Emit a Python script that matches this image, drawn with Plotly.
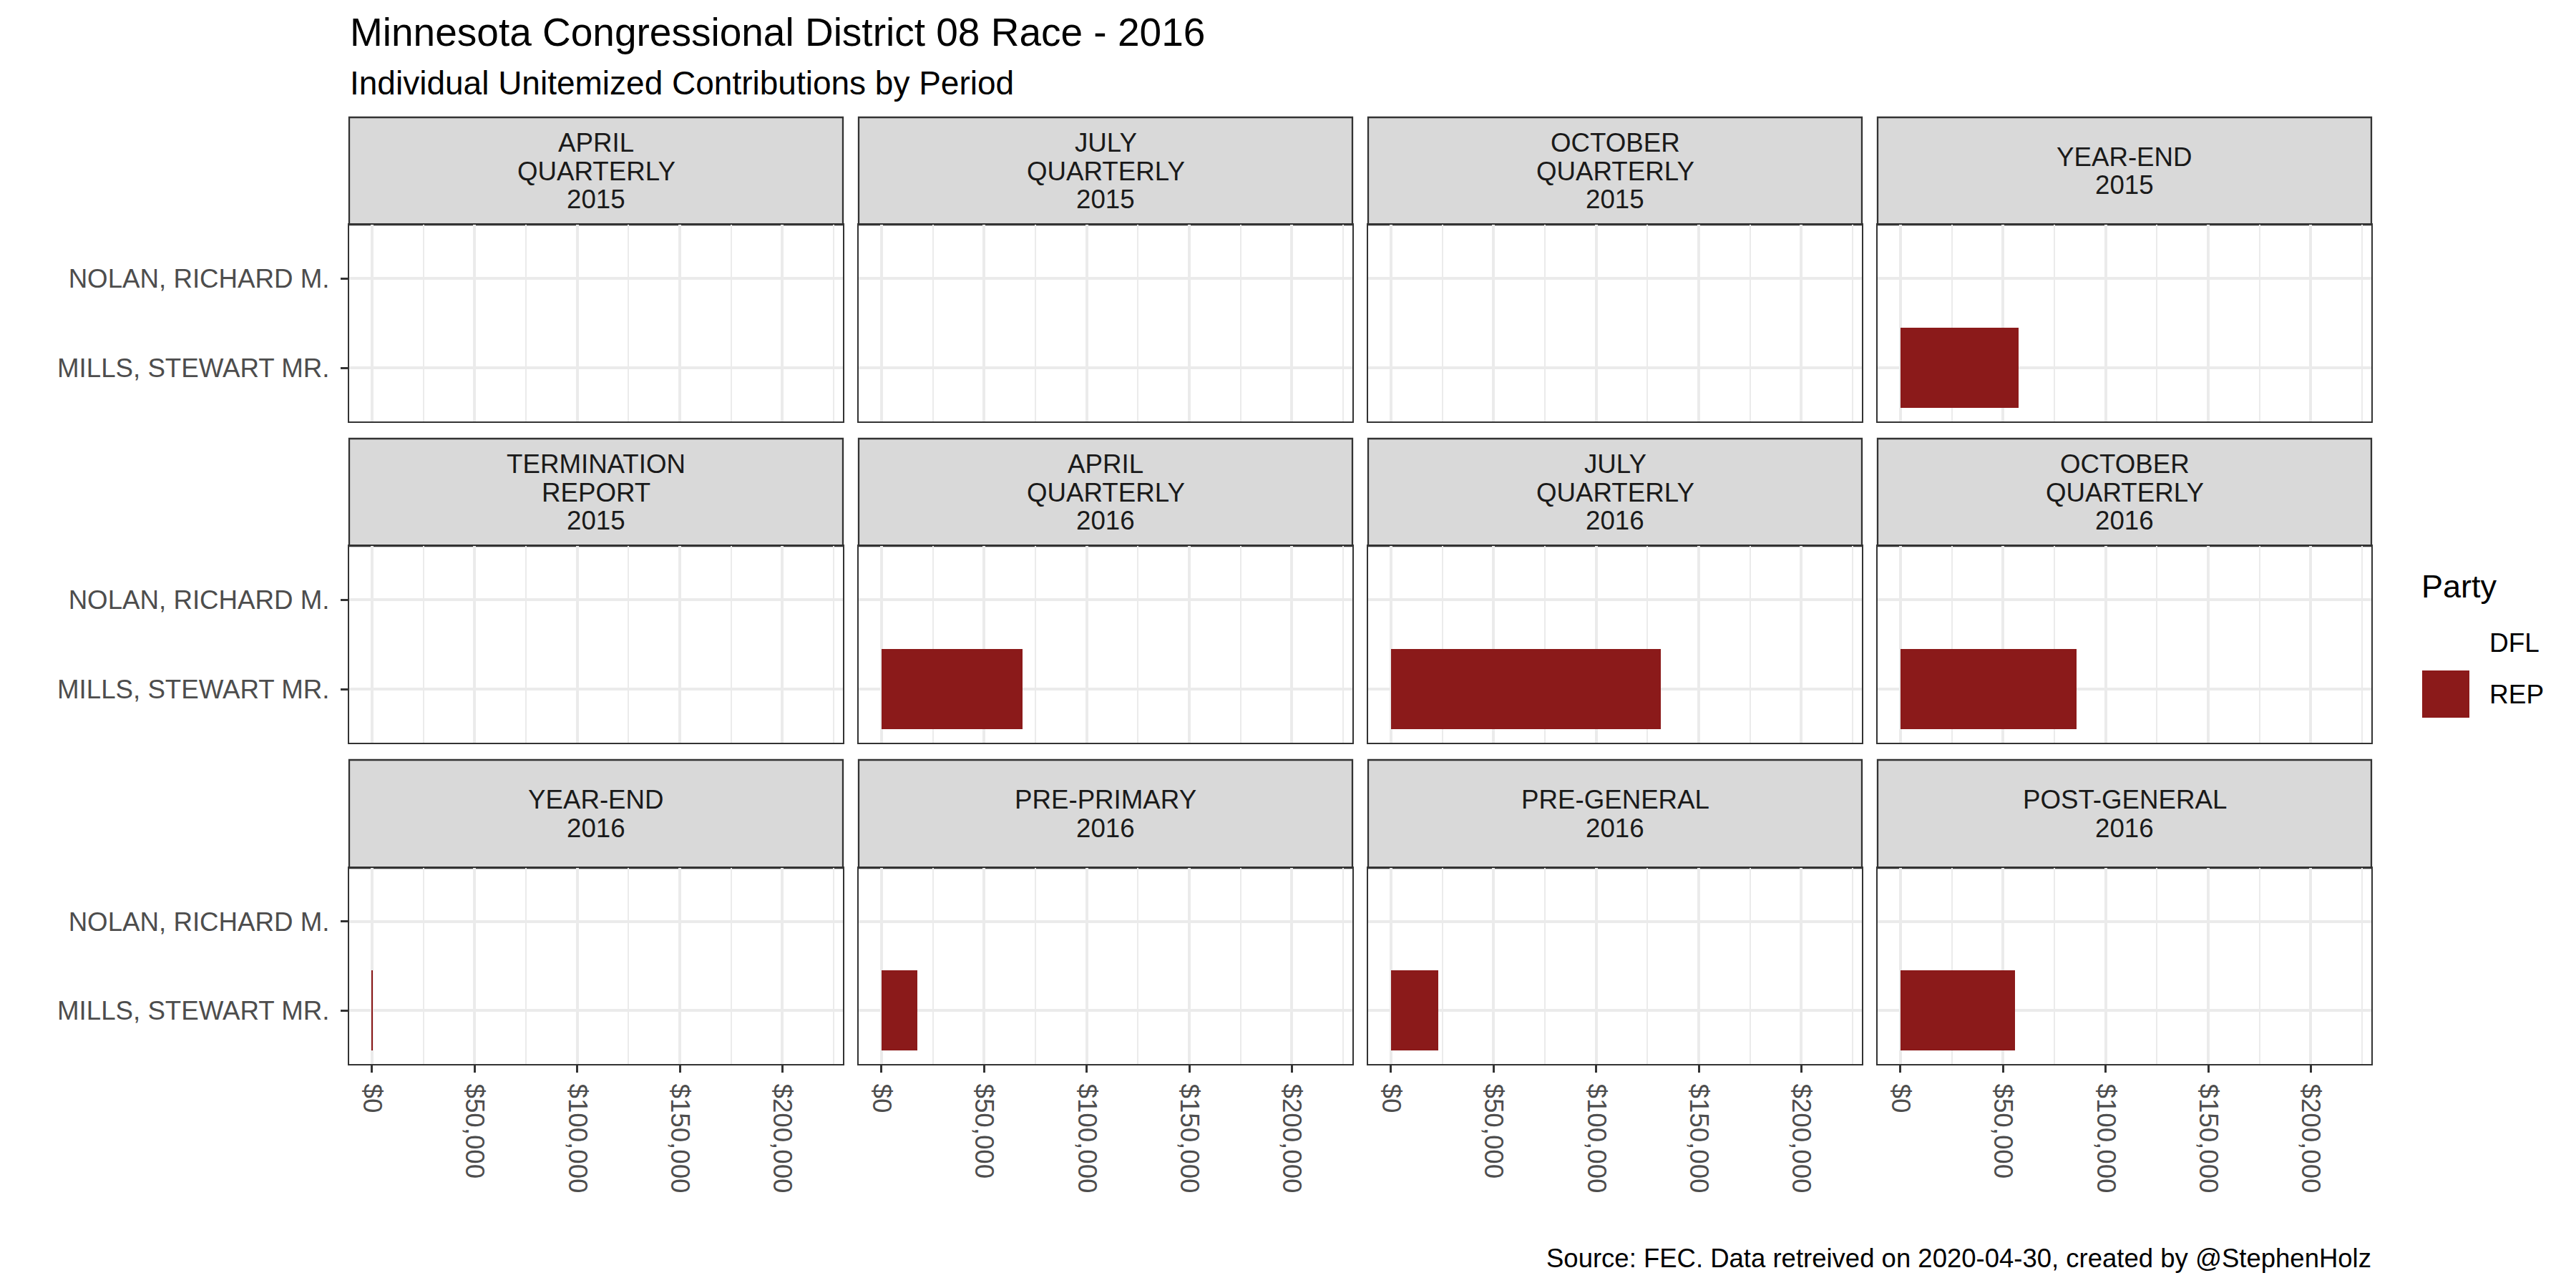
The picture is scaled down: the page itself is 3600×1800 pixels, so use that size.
import plotly.graph_objects as go

# ---------------- data ----------------
periods = [
    "APRIL\nQUARTERLY\n2015", "JULY\nQUARTERLY\n2015", "OCTOBER\nQUARTERLY\n2015", "YEAR-END\n2015",
    "TERMINATION\nREPORT\n2015", "APRIL\nQUARTERLY\n2016", "JULY\nQUARTERLY\n2016", "OCTOBER\nQUARTERLY\n2016",
    "YEAR-END\n2016", "PRE-PRIMARY\n2016", "PRE-GENERAL\n2016", "POST-GENERAL\n2016",
]
candidates = ["MILLS, STEWART MR.", "NOLAN, RICHARD M."]
mills_rep = [None, None, None, 57700, None, 68700, 131400, 85800, 350, 17600, 22900, 56000]
nolan_dfl = [None] * 12
x_tickvals = [0, 50000, 100000, 150000, 200000]
x_ticktext = ["$0", "$50,000", "$100,000", "$150,000", "$200,000"]
x_minor = [25000, 75000, 125000, 175000, 225000]
party_names = ["DFL", "REP"]
party_colors = {"DFL": "rgba(0,0,0,0)", "REP": "#8B1A1A"}

# ---------------- layout helpers ----------------
W, H = 3600, 1800
def px(x):
    return x / W
def py(y):
    return 1 - y / H

col_left = [488, 1200, 1912, 2624]
col_w = 690
row_strip_top = [164, 613, 1062]
row_panel_top = [314, 763, 1213]
row_panel_bot = [589, 1038, 1487]

FONT = "Liberation Sans, Arial, sans-serif"
BORDER = "#333333"
AXIS_FS = 36.7
STRIP_FS = 36.7

fig = go.Figure()
layout = dict()
shapes = []
annotations = []

for i, per in enumerate(periods):
    r, c = divmod(i, 4)
    n = i + 1
    xa = "x" if n == 1 else f"x{n}"
    ya = "y" if n == 1 else f"y{n}"
    xkey = "xaxis" if n == 1 else f"xaxis{n}"
    ykey = "yaxis" if n == 1 else f"yaxis{n}"

    # invisible anchor trace so every facet draws its axes
    fig.add_trace(go.Scatter(x=[0, 0], y=[0, 1], mode="markers",
                             marker=dict(opacity=0, size=1), hoverinfo="skip",
                             xaxis=xa, yaxis=ya, showlegend=False))

    # bars
    for cand, vals, party in [(candidates[0], mills_rep, "REP"), (candidates[1], nolan_dfl, "DFL")]:
        v = vals[i]
        if v is None:
            continue
        fig.add_trace(go.Bar(
            x=[v], y=[candidates.index(cand)], orientation="h", width=0.9,
            marker=dict(color=party_colors[party], line=dict(width=0)),
            xaxis=xa, yaxis=ya, showlegend=False, name=party,
        ))

    bottom = (r == 2)
    left = (c == 0)
    layout[xkey] = dict(
        domain=[px(col_left[c]), px(col_left[c] + col_w)],
        anchor=ya, range=[-11100, 229500], type="linear",
        tickvals=x_tickvals, ticktext=x_ticktext,
        showticklabels=bottom, tickangle=90,
        ticks="outside" if bottom else "", ticklen=10, tickwidth=3, tickcolor=BORDER,
        ticklabelstandoff=8,
        tickfont=dict(family=FONT, size=AXIS_FS, color="#4D4D4D"),
        showgrid=True, gridcolor="#EBEBEB", gridwidth=4,
        minor=dict(tickvals=x_minor, showgrid=True, gridcolor="#EBEBEB", gridwidth=2, ticks=""),
        zeroline=False, showline=True, linecolor=BORDER, linewidth=2.3, mirror=True,
        fixedrange=True,
    )
    layout[ykey] = dict(
        domain=[py(row_panel_bot[r]), py(row_panel_top[r])],
        anchor=xa, range=[-0.6, 1.6], type="linear",
        tickvals=[0, 1], ticktext=candidates,
        showticklabels=left,
        ticks="outside" if left else "", ticklen=10, tickwidth=3, tickcolor=BORDER,
        ticklabelstandoff=8,
        tickfont=dict(family=FONT, size=AXIS_FS, color="#4D4D4D"),
        showgrid=True, gridcolor="#EBEBEB", gridwidth=4,
        zeroline=False, showline=True, linecolor=BORDER, linewidth=2.3, mirror=True,
        fixedrange=True,
    )

    # strip
    x0, x1 = col_left[c], col_left[c] + col_w
    y0, y1 = row_strip_top[r], row_panel_top[r]
    shapes.append(dict(type="rect", xref="paper", yref="paper",
                       x0=px(x0), x1=px(x1), y0=py(y1), y1=py(y0),
                       fillcolor="#D9D9D9", line=dict(color=BORDER, width=2.3), layer="below"))
    lines = per.split("\n")
    cy = (y0 + y1) / 2
    sp = 39.5
    for k, ln in enumerate(lines):
        yy = cy + sp * (k - (len(lines) - 1) / 2)
        annotations.append(dict(text=ln, xref="paper", yref="paper",
                                x=px((x0 + x1) / 2), y=py(yy), xanchor="center", yanchor="middle",
                                showarrow=False, font=dict(family=FONT, size=STRIP_FS, color="#1A1A1A")))

# titles
annotations.append(dict(text="Minnesota Congressional District 08 Race - 2016", xref="paper", yref="paper",
                        x=px(487), y=py(45), xanchor="left", yanchor="middle", showarrow=False,
                        font=dict(family=FONT, size=55, color="#000000")))
annotations.append(dict(text="Individual Unitemized Contributions by Period", xref="paper", yref="paper",
                        x=px(487), y=py(116), xanchor="left", yanchor="middle", showarrow=False,
                        font=dict(family=FONT, size=46, color="#000000")))
annotations.append(dict(text="Source: FEC. Data retreived on 2020-04-30, created by @StephenHolz", xref="paper", yref="paper",
                        x=px(3316), y=py(1758), xanchor="right", yanchor="middle", showarrow=False,
                        font=dict(family=FONT, size=36.5, color="#000000")))

# legend (manual)
annotations.append(dict(text="Party", xref="paper", yref="paper", x=px(3382), y=py(820),
                        xanchor="left", yanchor="middle", showarrow=False,
                        font=dict(family=FONT, size=45, color="#000000")))
legend_y = {"DFL": 898, "REP": 970}
for p in party_names:
    annotations.append(dict(text=p, xref="paper", yref="paper", x=px(3477), y=py(legend_y[p]),
                            xanchor="left", yanchor="middle", showarrow=False,
                            font=dict(family=FONT, size=37, color="#000000")))
    shapes.append(dict(type="rect", xref="paper", yref="paper",
                       x0=px(3385), x1=px(3451), y0=py(legend_y[p] + 33), y1=py(legend_y[p] - 33),
                       fillcolor=party_colors[p], line=dict(width=0)))

fig.update_layout(
    width=W, height=H, margin=dict(l=0, r=0, t=0, b=0),
    paper_bgcolor="white", plot_bgcolor="white",
    showlegend=False, bargap=0, shapes=shapes, annotations=annotations,
    font=dict(family=FONT),
    **layout,
)
fig.write_html("out.html", config={"displayModeBar": False},
               post_script="document.body.style.margin='0';document.body.style.overflow='hidden';")
